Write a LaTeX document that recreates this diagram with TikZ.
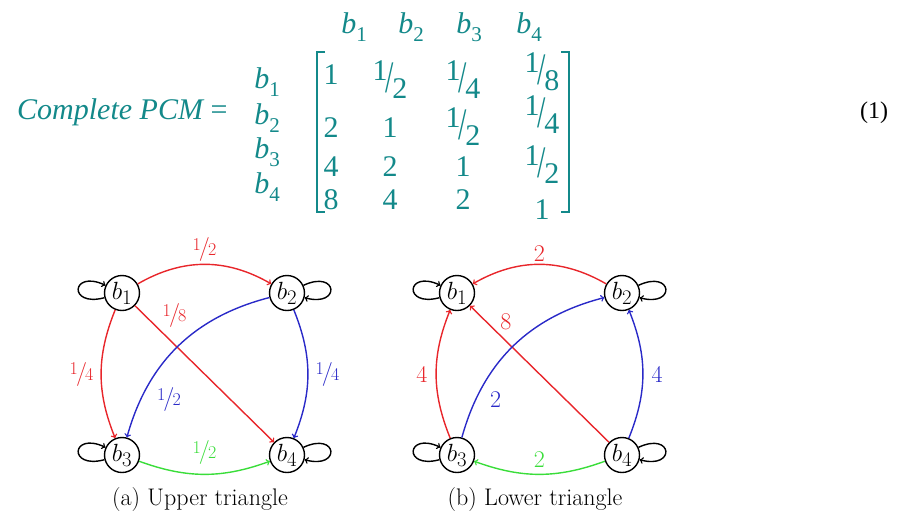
\documentclass[tikz,border=0pt]{standalone}
\usepackage{fontspec}
\usepackage{graphicx}
\newfontfamily\pcmfont{Liberation Serif}
\definecolor{pcmTeal}{HTML}{13898A}
\definecolor{edgeRed}{HTML}{E8262B}
\definecolor{edgeBlue}{HTML}{2A2AC8}
\definecolor{edgeGreen}{HTML}{3ADD3A}

% bevelled fraction of the matrix, and the small one of the graphs
\newcommand{\bfrac}[2]{\raisebox{.3em}{#1}\kern-.06em\raisebox{-.1em}{\scalebox{1}[1.5]{/}}\kern-.06em\raisebox{-.3em}{#2}}
\newcommand{\nfrac}[2]{\raisebox{.5ex}{\fontsize{18}{18}\selectfont #1}\kern-.08em/\kern-.08em{\fontsize{18}{18}\selectfont #2}}
\newcommand{\bsub}[1]{{\itshape b}\raisebox{-.25em}{\fontsize{21}{21}\selectfont #1}}

\tikzset{
  pcm/.style={text=pcmTeal, font=\pcmfont\fontsize{30}{30}\selectfont, inner sep=0pt},
  vertex/.style={circle, draw, line width=1.4pt, minimum size=35pt, inner sep=0pt,
    font=\fontsize{28}{28}\selectfont},
  link/.style={->, line width=1.4pt},
  selfloop/.style={->, line width=1.4pt, min distance=38pt, looseness=1},
  elabel/.style={font=\fontsize{24}{24}\selectfont, inner sep=2pt},
}

\begin{document}
\begin{tikzpicture}[x=1pt, y=-1pt]
    \useasboundingbox (0,0) rectangle (897,512);

    % the complete matrix
    \node[pcm, anchor=west] (pcmname) at (17,112) {{\itshape Complete PCM} =};
    \foreach \i/\x in {1/354, 2/411, 3/469, 4/529}
        \node[pcm] (col\i) at (\x,27) {\bsub{\i}};
    \foreach \i/\y in {1/82, 2/118, 3/152, 4/187}
        \node[pcm] (row\i) at (267,\y) {\bsub{\i}};
    \draw[pcmTeal, line width=1.6pt] (325,52) -- (317,52) -- (317,212) -- (325,212);
    \draw[pcmTeal, line width=1.6pt] (561,52) -- (569,52) -- (569,212) -- (561,212);
    \foreach \x/\y/\v [count=\k] in {
        331/75/1, 390/80/{\bfrac{1}{2}}, 463/80/{\bfrac{1}{4}}, 542/72/{\bfrac{1}{8}},
        331/128/2, 390/128/1, 463/127/{\bfrac{1}{2}}, 542/115/{\bfrac{1}{4}},
        331/167/4, 390/167/2, 463/167/1, 542/165/{\bfrac{1}{2}},
        331/200/8, 390/200/4, 463/200/2, 542/210/1}
        \node[pcm] (e\k) at (\x,\y) {\v};
    \node[font=\pcmfont\fontsize{24}{24}\selectfont] (eqno) at (874,113) {(1)};

    % (a) upper triangle
    \node[vertex] (u1) at (122,293) {$b_1$};
    \node[vertex] (u2) at (287,293) {$b_2$};
    \node[vertex] (u3) at (122,455) {$b_3$};
    \node[vertex] (u4) at (287,455) {$b_4$};
    \path (u1) edge[selfloop, out=195, in=155] (u1);
    \path (u2) edge[selfloop, out=25, in=-15] (u2);
    \path (u3) edge[selfloop, out=195, in=155] (u3);
    \path (u4) edge[selfloop, out=25, in=-15] (u4);
    \draw[link, edgeRed] (u1) to[bend left=30] node[elabel, above] (t12) {\nfrac12} (u2);
    \draw[link, edgeRed] (u1) to[bend right=22] node[elabel, left=5pt] (t13) {\nfrac14} (u3);
    \draw[link, edgeRed] (u1) -- node[elabel, pos=.18, above right] (t14) {\nfrac18} (u4);
    \draw[link, edgeBlue] (u2) to[bend right=30] node[elabel, pos=.72, below right=4pt] (t23) {\nfrac12} (u3);
    \draw[link, edgeBlue] (u2) to[bend left=22] node[elabel, right=5pt] (t24) {\nfrac14} (u4);
    \draw[link, edgeGreen] (u3) to[bend right=20] node[elabel, above=7pt] (t34) {\nfrac12} (u4);
    \node[elabel] (capa) at (200,500) {(a) Upper triangle};

    % (b) lower triangle
    \node[vertex] (l1) at (457,293) {$b_1$};
    \node[vertex] (l2) at (622,293) {$b_2$};
    \node[vertex] (l3) at (457,455) {$b_3$};
    \node[vertex] (l4) at (622,455) {$b_4$};
    \path (l1) edge[selfloop, out=195, in=155] (l1);
    \path (l2) edge[selfloop, out=25, in=-15] (l2);
    \path (l3) edge[selfloop, out=195, in=155] (l3);
    \path (l4) edge[selfloop, out=25, in=-15] (l4);
    \draw[link, edgeRed] (l2) to[bend right=30] node[elabel, above] (s21) {2} (l1);
    \draw[link, edgeRed] (l3) to[bend left=22] node[elabel, left=6pt] (s31) {4} (l1);
    \draw[link, edgeRed] (l4) -- node[elabel, pos=.8, above right] (s41) {8} (l1);
    \draw[link, edgeBlue] (l3) to[bend left=30] node[elabel, pos=.26, below right=4pt] (s32) {2} (l2);
    \draw[link, edgeBlue] (l4) to[bend right=22] node[elabel, right=6pt] (s42) {4} (l2);
    \draw[link, edgeGreen] (l4) to[bend left=20] node[elabel, above=4pt] (s43) {2} (l3);
    \node[elabel] (capb) at (535,500) {(b) Lower triangle};
\end{tikzpicture}
\end{document}
